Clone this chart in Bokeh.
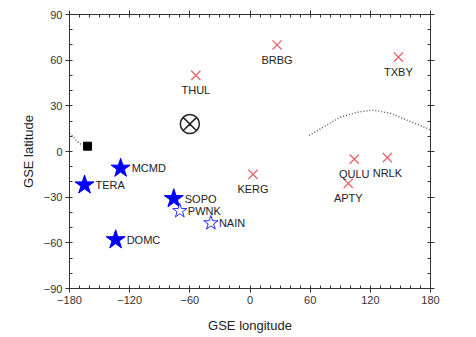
from bokeh.plotting import figure
from bokeh.models import ColumnDataSource, LabelSet, LinearAxis, SingleIntervalTicker, Range1d, CustomJSTickFormatter
from bokeh.core.properties import value
from bokeh.embed import file_html
from bokeh.resources import INLINE

# --- data (GSE longitude, latitude) ---
red_names = ["THUL", "BRBG", "TXBY", "KERG", "QULU", "NRLK", "APTY"]
red_lon = [-54, 27, 148, 3, 104, 137, 98]
red_lat = [50, 70, 62, -15, -5, -4, -21]

fstar_names = ["MCMD", "TERA", "SOPO", "DOMC"]
fstar_lon = [-129, -165, -76, -134]
fstar_lat = [-11, -22, -31, -58]

ostar_names = ["PWNK", "NAIN"]
ostar_lon = [-70, -39]
ostar_lat = [-39, -47]

sun_lon = [-60]
sun_lat = [18]

square_lon = [-162]
square_lat = [3.5]

curve_left_lon = [-180, -176, -172, -168]
curve_left_lat = [12, 9.5, 6.5, 4.5]
curve_right_lon = [59, 73, 90, 107, 122, 140, 157, 177, 180]
curve_right_lat = [10.6, 16, 22.5, 25.8, 27.2, 25.1, 20.5, 15.2, 14]

FONT = "Liberation Sans"

p = figure(width=460, height=336, output_backend="svg", toolbar_location=None,
           x_range=Range1d(-180, 180), y_range=Range1d(-90, 90),
           min_border_left=69, min_border_top=14, min_border_right=30, min_border_bottom=48)
p.grid.visible = False
p.outline_line_color = None
p.background_fill_color = "white"
p.border_fill_color = "white"

p.line(curve_left_lon, curve_left_lat, line_dash="1 2", line_color="#555555", line_width=1.4)
p.line(curve_right_lon, curve_right_lat, line_dash="1 2", line_color="#555555", line_width=1.4)

red = ColumnDataSource(dict(x=red_lon, y=red_lat, name=red_names))
fs = ColumnDataSource(dict(x=fstar_lon, y=fstar_lat, name=fstar_names))
os_ = ColumnDataSource(dict(x=ostar_lon, y=ostar_lat, name=ostar_names))

p.scatter("x", "y", source=red, marker="x", size=13, line_color="#e8646e", line_width=1.3)
p.scatter("x", "y", source=fs, marker="star", size=20, fill_color="#0000ff", line_color="#0000ff")
p.scatter("x", "y", source=os_, marker="star", size=15, fill_color="white", line_color="#2a2aff", line_width=1)
p.scatter(sun_lon, sun_lat, marker="circle_x", size=19, fill_color=None, line_color="#222222", line_width=1.5)
p.scatter(square_lon, square_lat, marker="square", size=8, fill_color="black", line_color="black")

lab = dict(text_font=value(FONT), text_font_size=value("11px"), text_color="#222222", text_baseline="middle")
p.add_layout(LabelSet(x="x", y="y", text="name", source=red, text_align="center", y_offset=-15, **lab))
p.add_layout(LabelSet(x="x", y="y", text="name", source=fs, text_align="left", x_offset=11, **lab))
p.add_layout(LabelSet(x="x", y="y", text="name", source=os_, text_align="left", x_offset=8, **lab))

def style(ax, labels=True):
    ax.axis_line_color = "#333333"
    ax.major_tick_line_color = "#333333"
    ax.minor_tick_line_color = "#333333"
    ax.major_tick_out = 4
    ax.major_tick_in = 0
    ax.minor_tick_out = 0
    ax.minor_tick_in = 3
    ax.major_label_text_font = FONT
    ax.major_label_text_font_size = "11px"
    ax.major_label_text_color = "#333333"
    ax.axis_label_text_font = FONT
    ax.axis_label_text_font_style = "normal"
    ax.axis_label_text_font_size = "13px"
    ax.axis_label_text_color = "#222222"
    if not labels:
        ax.formatter = CustomJSTickFormatter(code="return ''")
        ax.major_label_standoff = 0

p.xaxis.ticker = SingleIntervalTicker(interval=60, num_minor_ticks=6)
p.yaxis.ticker = SingleIntervalTicker(interval=30, num_minor_ticks=3)
p.xaxis.axis_label = "GSE longitude"
p.yaxis.axis_label = "GSE latitude"
style(p.xaxis[0])
style(p.yaxis[0])
p.xaxis.major_label_standoff = 3
p.yaxis.major_label_standoff = 3
p.xaxis.axis_label_standoff = 11

top = LinearAxis(ticker=SingleIntervalTicker(interval=60, num_minor_ticks=6))
right = LinearAxis(ticker=SingleIntervalTicker(interval=30, num_minor_ticks=3))
style(top, labels=False)
style(right, labels=False)
p.add_layout(top, "above")
p.add_layout(right, "right")

open("out.html", "w").write(file_html(p, INLINE))
